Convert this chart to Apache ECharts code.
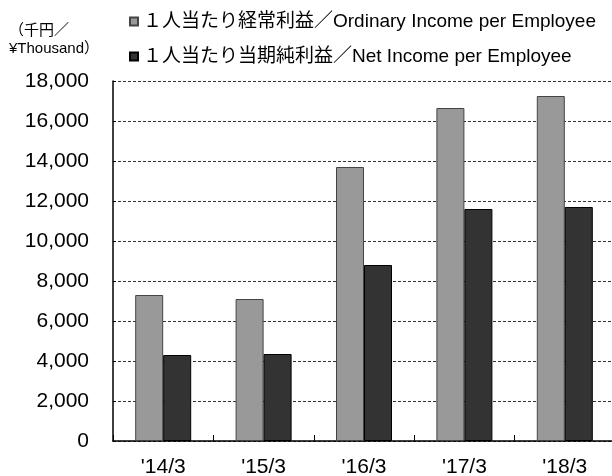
<!DOCTYPE html>
<html>
<head>
<meta charset="utf-8">
<script src="https://cdn.jsdelivr.net/npm/echarts@6/dist/echarts.min.js"></script>
<style>
  html, body { margin: 0; padding: 0; background: #fff; }
  #chart { width: 612px; height: 476px; }
</style>
</head>
<body>
<div id="chart"></div>
<script>
const categories = ["'14/3", "'15/3", "'16/3", "'17/3", "'18/3"]
const ordinaryIncome = [7300, 7100, 13700, 16650, 17250]
const netIncome = [4300, 4350, 8800, 11600, 11700]
const seriesNames = ['１人当たり経常利益／Ordinary Income per Employee', '１人当たり当期純利益／Net Income per Employee']
const unitLabel = '（千円／\n¥Thousand）'

const font = '"Liberation Sans", Arial, "Noto Sans CJK JP", sans-serif'

const chart = echarts.init(document.getElementById('chart'))

chart.setOption({
  animation: false,
  backgroundColor: '#ffffff',
  textStyle: { fontFamily: font, color: '#000' },
  title: {
    text: unitLabel,
    left: 4,
    top: 17,
    textStyle: { fontSize: 15, fontWeight: 'normal', lineHeight: 18, color: '#000', fontFamily: font },
  },
  legend: [
    {
      data: [seriesNames[0]],
      left: 124,
      top: 7,
      icon: 'rect',
      itemWidth: 8,
      itemHeight: 8,
      itemGap: 0,
      textStyle: { fontSize: 19, color: '#000', fontFamily: font },
    },
    {
      data: [seriesNames[1]],
      left: 124,
      top: 42,
      icon: 'rect',
      itemWidth: 8,
      itemHeight: 8,
      itemGap: 0,
      textStyle: { fontSize: 19, color: '#000', fontFamily: font },
    },
  ],
  grid: { left: 113, right: -3, top: 81, bottom: 35, containLabel: false, outerBoundsMode: 'none' },
  xAxis: {
    type: 'category',
    data: categories,
    axisLine: { lineStyle: { color: '#000', width: 1.5 } },
    axisTick: { show: true, inside: true, length: 6, lineStyle: { color: '#000' } },
    axisLabel: { fontSize: 21, color: '#000', margin: 16 },
  },
  yAxis: {
    type: 'value',
    min: 0,
    max: 18000,
    interval: 2000,
    axisLine: { show: true, lineStyle: { color: '#000', width: 1.5 } },
    axisTick: { show: true, inside: true, length: 3, lineStyle: { color: '#000' } },
    axisLabel: {
      fontSize: 21,
      color: '#000',
      margin: 24,
      formatter: v => v.toLocaleString('en-US'),
    },
    splitLine: { lineStyle: { color: '#333', type: [3, 2], width: 1 } },
  },
  series: [
    {
      name: seriesNames[0],
      type: 'bar',
      data: ordinaryIncome,
      barWidth: 28,
      barGap: '0%',
      itemStyle: { color: '#999999', borderColor: '#444', borderWidth: 1 },
    },
    {
      name: seriesNames[1],
      type: 'bar',
      data: netIncome,
      barWidth: 28,
      itemStyle: { color: '#333333', borderColor: '#000', borderWidth: 1 },
    },
  ],
})
</script>
</body>
</html>
